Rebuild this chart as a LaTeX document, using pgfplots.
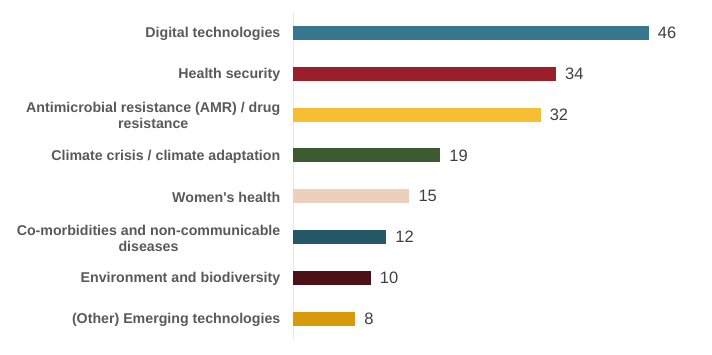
\documentclass[border=0pt]{standalone}
\usepackage{pgfplots}
\pgfplotsset{compat=1.18}
\usepackage{fontspec}
\setmainfont{Liberation Sans}
\definecolor{c1}{HTML}{36768F}
\definecolor{c2}{HTML}{9B1F2A}
\definecolor{c3}{HTML}{F7BE34}
\definecolor{c4}{HTML}{3C5B2E}
\definecolor{c5}{HTML}{EDCFBD}
\definecolor{c6}{HTML}{275868}
\definecolor{c7}{HTML}{4D1016}
\definecolor{c8}{HTML}{D89A0A}
\definecolor{lbl}{HTML}{595959}
\definecolor{val}{HTML}{404040}
\begin{document}
\begin{tikzpicture}
\begin{axis}[
  scale only axis,
  width=411.5pt, height=327pt,
  xmin=0, xmax=53.3,
  ymin=-0.5, ymax=7.5,
  y dir=reverse,
  xbar, bar width=14pt, bar shift=0pt,
  axis x line=none,
  axis y line*=left,
  y axis line style={draw=black!9, line width=1.5pt, -},
  xtick=\empty,
  ytick={0,1,2,3,4,5,6,7},
  major tick length=0pt,
  /pgf/number format/assume math mode=true,
  yticklabels={{Digital technologies},{Health security},{Antimicrobial resistance (AMR) / drug\\resistance},{Climate crisis / climate adaptation},{Women\textquotesingle s health},{Co-morbidities and non-communicable\\diseases},{Environment and biodiversity},{(Other) Emerging technologies}},
  y tick label style={font=\fontsize{14.2}{15.5}\selectfont\bfseries, text=lbl, align=center, inner sep=0pt, xshift=-13pt, yshift=-1pt},
  nodes near coords,
  nodes near coords style={font=\fontsize{16.5}{18}\selectfont, text=val, anchor=west, inner sep=0pt, xshift=9pt},
  clip=false,
]
\addplot[fill=c1, draw=none] coordinates {(46,0)};
\addplot[fill=c2, draw=none] coordinates {(34,1)};
\addplot[fill=c3, draw=none] coordinates {(32,2)};
\addplot[fill=c4, draw=none] coordinates {(19,3)};
\addplot[fill=c5, draw=none] coordinates {(15,4)};
\addplot[fill=c6, draw=none] coordinates {(12,5)};
\addplot[fill=c7, draw=none] coordinates {(10,6)};
\addplot[fill=c8, draw=none] coordinates {(8,7)};
\end{axis}
\path ([shift={(-293.5pt,-15.6pt)}]current axis.south west) rectangle ([shift={(418.5pt,12.4pt)}]current axis.north west);
\end{tikzpicture}
\end{document}
